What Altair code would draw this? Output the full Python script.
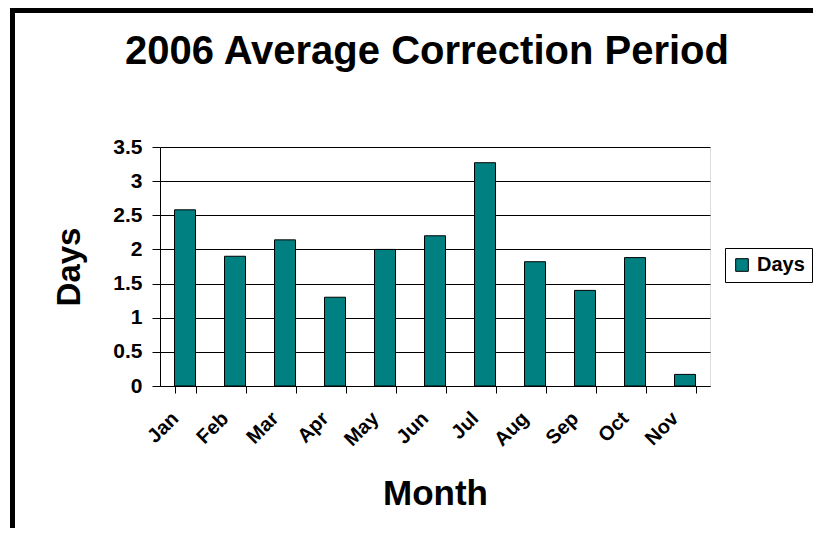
import altair as alt
import pandas as pd

months = ["Jan", "Feb", "Mar", "Apr", "May", "Jun", "Jul", "Aug", "Sep", "Oct", "Nov"]
days = [2.58, 1.90, 2.14, 1.30, 2.00, 2.20, 3.27, 1.82, 1.40, 1.88, 0.17]
series = ["Days"] * len(months)
y_ticks = [0, 0.5, 1, 1.5, 2, 2.5, 3, 3.5]

df = pd.DataFrame({"Month": months, "Days": days, "Series": series})

FONT = "Liberation Sans"

bars = alt.Chart(df).mark_bar(stroke="black", strokeWidth=1).encode(
    x=alt.X(
        "Month:N",
        sort=months,
        scale=alt.Scale(paddingInner=0.58, paddingOuter=0.29),
        axis=alt.Axis(
            title="Month",
            labelAngle=-45,
            labelAlign="right",
            labelBaseline="middle",
            labelFontSize=20,
            labelFontWeight="bold",
            labelFont=FONT,
            labelColor="black",
            labelPadding=22,
            labelOffset=-10,
            tickBand="extent",
            tickSize=7,
            tickColor="black",
            domainColor="black",
            titleFontSize=35,
            titleFontWeight="bold",
            titleFont=FONT,
            titleColor="black",
            titlePadding=27,
            grid=False,
        ),
    ),
    y=alt.Y(
        "Days:Q",
        scale=alt.Scale(domain=[0, 3.5], nice=False),
        axis=alt.Axis(
            title="Days",
            values=y_ticks,
            labelExpr="'' + datum.value",
            labelFontSize=21,
            labelFontWeight="bold",
            labelFont=FONT,
            labelColor="black",
            labelPadding=10,
            tickSize=8,
            tickColor="black",
            domainColor="black",
            gridColor="black",
            gridWidth=1,
            gridOpacity=1,
            titleFontSize=33,
            titleFontWeight="bold",
            titleFont=FONT,
            titleColor="black",
            titlePadding=26,
        ),
    ),
    color=alt.Color(
        "Series:N",
        scale=alt.Scale(range=["#008080"]),
        legend=alt.Legend(
            title=None,
            orient="none",
            legendX=565,
            legendY=101,
            strokeColor="black",
            padding=7,
            symbolType="square",
            symbolSize=160,
            symbolStrokeColor="black",
            symbolStrokeWidth=1,
            labelFontSize=20,
            labelFontWeight="bold",
            labelFont=FONT,
            labelColor="black",
            labelOffset=5,
        ),
    ),
)

border = alt.Chart(df).mark_rect(
    fill=None, stroke="black", strokeWidth=5, clip=False
).encode(
    x=alt.value(-147.5),
    x2=alt.value(700),
    y=alt.value(-136.5),
    y2=alt.value(420),
)

chart = alt.layer(border, bars).properties(
    width=550,
    height=239,
    title=alt.TitleParams(
        "2006 Average Correction Period",
        fontSize=40,
        fontWeight="bold",
        font=FONT,
        color="black",
        anchor="middle",
        dx=-8,
        offset=0,
        dy=64,
    ),
    autosize=alt.AutoSizeParams(type="none"),
    padding={"left": 152, "top": 139, "right": 103, "bottom": 142},
).configure_view(stroke="black", strokeWidth=1).configure(background="white")

chart.save("out.html", embed_options={"renderer": "svg", "actions": False})
